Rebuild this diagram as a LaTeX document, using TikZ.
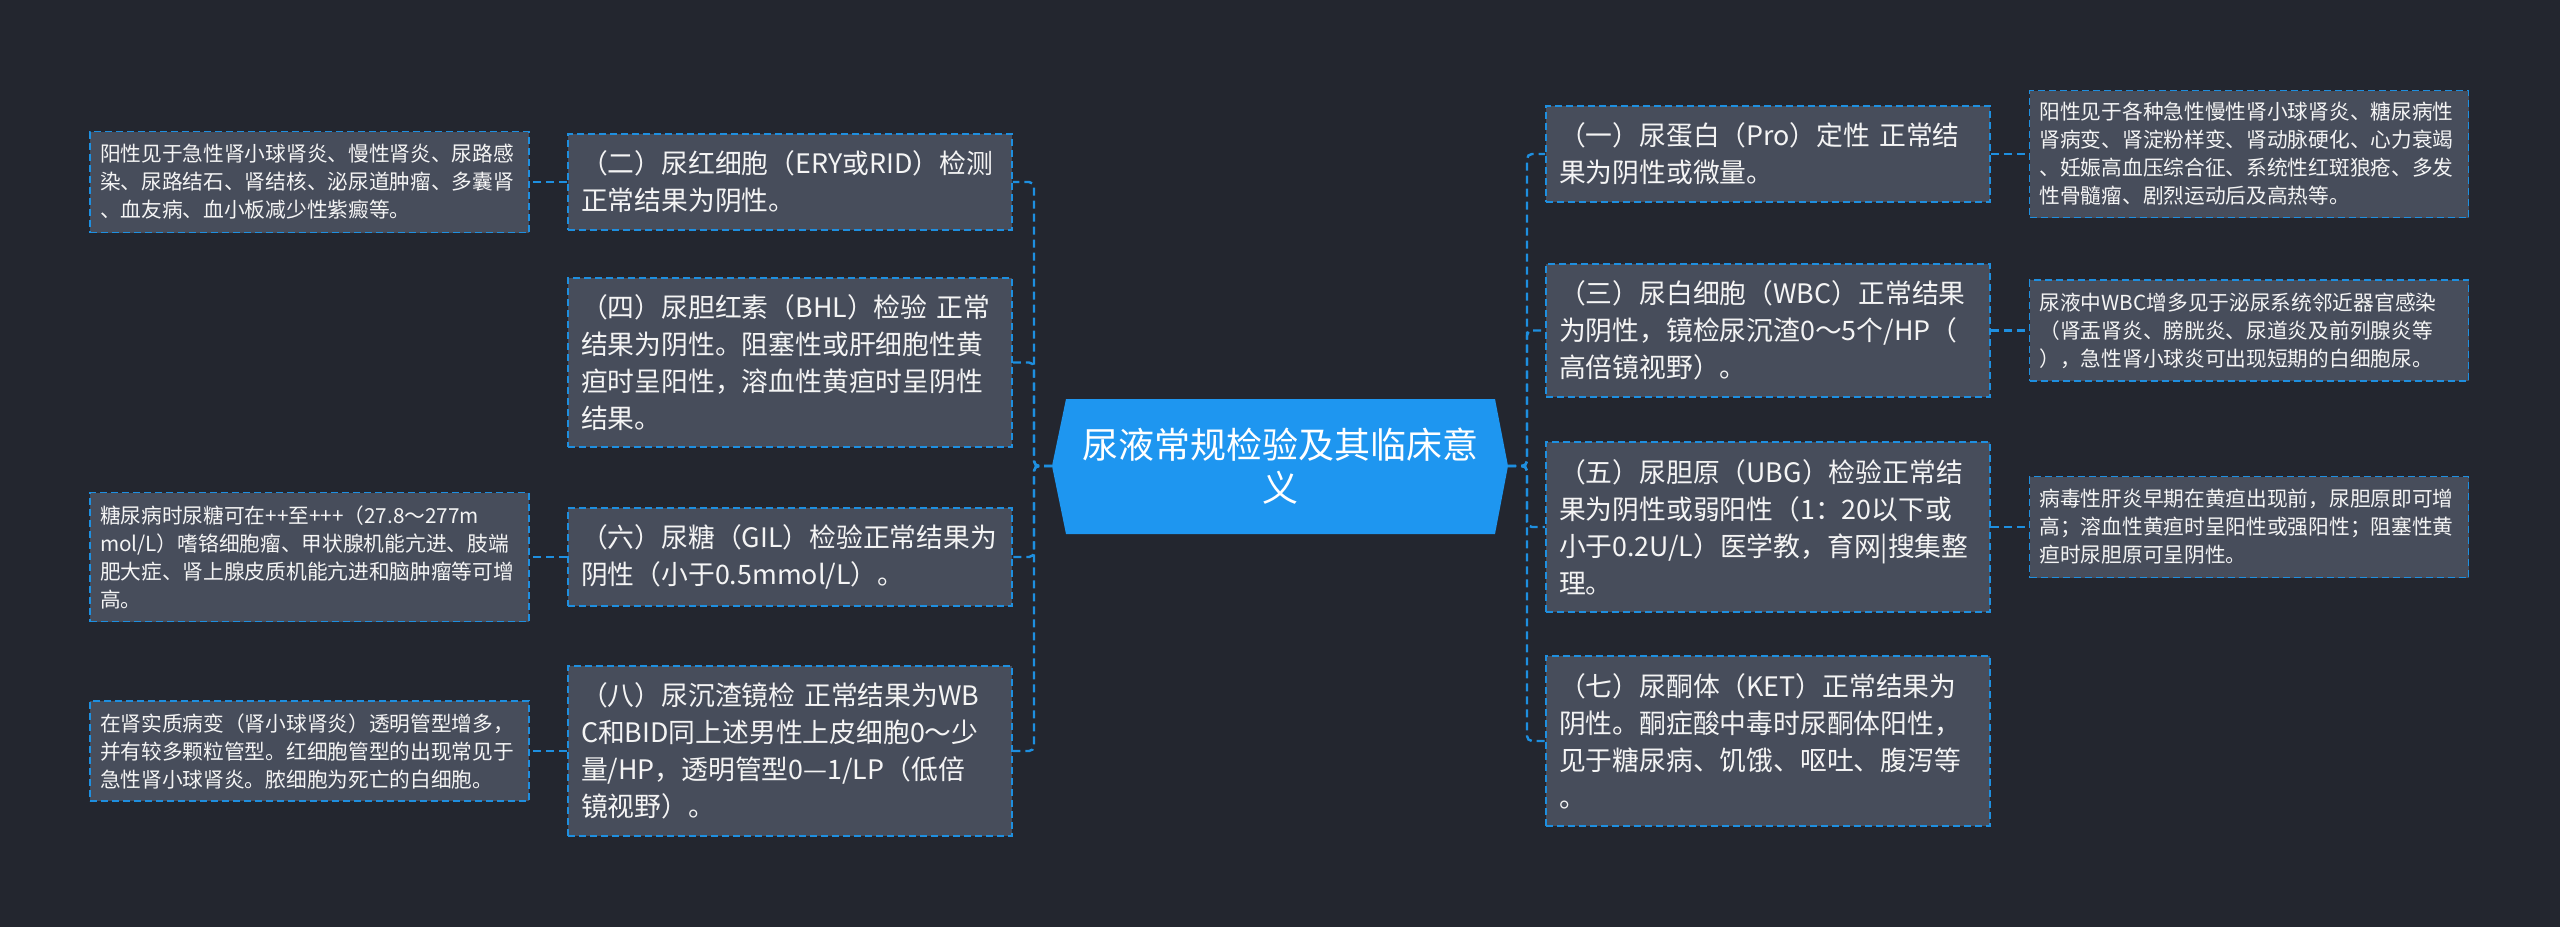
\documentclass[tikz,border=0pt]{standalone}
\usepackage{fontspec}
\setmainfont{Noto Sans CJK SC}
\usetikzlibrary{calc}
\definecolor{bgc}{HTML}{23262F}
\definecolor{boxfill}{HTML}{474D5B}
\definecolor{lineblue}{HTML}{1E8FE0}
\definecolor{rootblue}{HTML}{1E96F0}
\definecolor{txt}{HTML}{F4F4F4}
\begin{document}
\begin{tikzpicture}[x=1pt,y=-1pt,
  mainbox/.style={draw=lineblue, line width=1.8pt, dash pattern=on 7pt off 4pt, fill=boxfill, text=txt,
    text width=418pt, align=left, inner xsep=13pt, inner ysep=0pt, minimum width=444pt,
    font=\fontsize{26.8}{37}\selectfont},
  detbox/.style={draw=lineblue, line width=1.8pt, dash pattern=on 7pt off 4pt, fill=boxfill, text=txt,
    text width=419pt, align=left, inner xsep=10pt, inner ysep=0pt, minimum width=439pt,
    font=\fontsize{20.7}{28}\selectfont},
  conn/.style={draw=lineblue, line width=2.4pt, dash pattern=on 8pt off 5pt, rounded corners=5pt},
  roottext/.style={text=white, align=center, font=\fontsize{36}{43}\selectfont}]
\useasboundingbox (0,0) rectangle (2560,927);
\fill[bgc] (0,0) rectangle (2560,927);

% root
\coordinate (cl) at (1052,466);
\coordinate (cr) at (1508,466);
\fill[rootblue] (cl) -- (1066,399) -- (1495,399) -- (cr) -- (1495,534) -- (1066,534) -- cycle;
\node[roottext] (c) at (1280,466) {尿液常规检验及其临床意\\义};

% left main boxes
\node[mainbox, minimum height=96pt] (b2) at (790,182) {（二）尿红细胞（ERY或RID）检测\\正常结果为阴性。};
\node[mainbox, minimum height=169pt] (b4) at (790,362.5) {（四）尿胆红素（BHL）检验 正常\\结果为阴性。阻塞性或肝细胞性黄\\疸时呈阳性，溶血性黄疸时呈阴性\\结果。};
\node[mainbox, minimum height=98pt] (b6) at (790,557) {（六）尿糖（GIL）检验正常结果为\\阴性（小于0.5mmol/L）。};
\node[mainbox, minimum height=170pt] (b8) at (790,751) {（八）尿沉渣镜检 正常结果为WB\\C和BID同上述男性上皮细胞0～少\\量/HP，透明管型0—1/LP（低倍\\镜视野）。};

% left detail boxes
\node[detbox, minimum height=101pt] (d2) at (309.5,182) {阳性见于急性肾小球肾炎、慢性肾炎、尿路感\\染、尿路结石、肾结核、泌尿道肿瘤、多囊肾\\、血友病、血小板减少性紫癜等。};
\node[detbox, minimum height=129pt] (d6) at (309.5,557) {糖尿病时尿糖可在++至+++（27.8～277m\\mol/L）嗜铬细胞瘤、甲状腺机能亢进、肢端\\肥大症、肾上腺皮质机能亢进和脑肿瘤等可增\\高。};
\node[detbox, minimum height=100pt] (d8) at (309.5,751) {在肾实质病变（肾小球肾炎）透明管型增多，\\并有较多颗粒管型。红细胞管型的出现常见于\\急性肾小球肾炎。脓细胞为死亡的白细胞。};

% right main boxes
\node[mainbox, minimum height=96pt] (b1) at (1768,154) {（一）尿蛋白（Pro）定性 正常结\\果为阴性或微量。};
\node[mainbox, minimum height=133pt] (b3) at (1768,330.5) {（三）尿白细胞（WBC）正常结果\\为阴性，镜检尿沉渣0～5个/HP（\\高倍镜视野）。};
\node[mainbox, minimum height=170pt] (b5) at (1768,527) {（五）尿胆原（UBG）检验正常结\\果为阴性或弱阳性（1：20以下或\\小于0.2U/L）医学教，育网|搜集整\\理。};
\node[mainbox, minimum height=170pt] (b7) at (1768,741) {（七）尿酮体（KET）正常结果为\\阴性。酮症酸中毒时尿酮体阳性，\\见于糖尿病、饥饿、呕吐、腹泻等\\。};

% right detail boxes
\node[detbox, minimum height=127pt] (d1) at (2249,154) {阳性见于各种急性慢性肾小球肾炎、糖尿病性\\肾病变、肾淀粉样变、肾动脉硬化、心力衰竭\\、妊娠高血压综合征、系统性红斑狼疮、多发\\性骨髓瘤、剧烈运动后及高热等。};
\node[detbox, minimum height=101pt] (d3) at (2249,330.5) {尿液中WBC增多见于泌尿系统邻近器官感染\\（肾盂肾炎、膀胱炎、尿道炎及前列腺炎等\\），急性肾小球炎可出现短期的白细胞尿。};
\node[detbox, minimum height=101pt] (d5) at (2249,527) {病毒性肝炎早期在黄疸出现前，尿胆原即可增\\高；溶血性黄疸时呈阳性或强阳性；阻塞性黄\\疸时尿胆原可呈阴性。};

% spines
\coordinate (ls) at (1034,466);
\coordinate (rs) at (1527,466);
\foreach \n in {b2,b4,b6,b8} \draw[conn] (cl) -- (ls) |- (\n.east);
\foreach \n in {b1,b3,b5,b7} \draw[conn] (cr) -- (rs) |- (\n.west);

% detail connectors
\foreach \a/\b in {b2/d2,b6/d6,b8/d8} \draw[conn] (\a.west) -- (\a.west -| \b.east);
\foreach \a/\b in {b1/d1,b3/d3,b5/d5} \draw[conn] (\a.east) -- (\a.east -| \b.west);
\end{tikzpicture}
\end{document}
